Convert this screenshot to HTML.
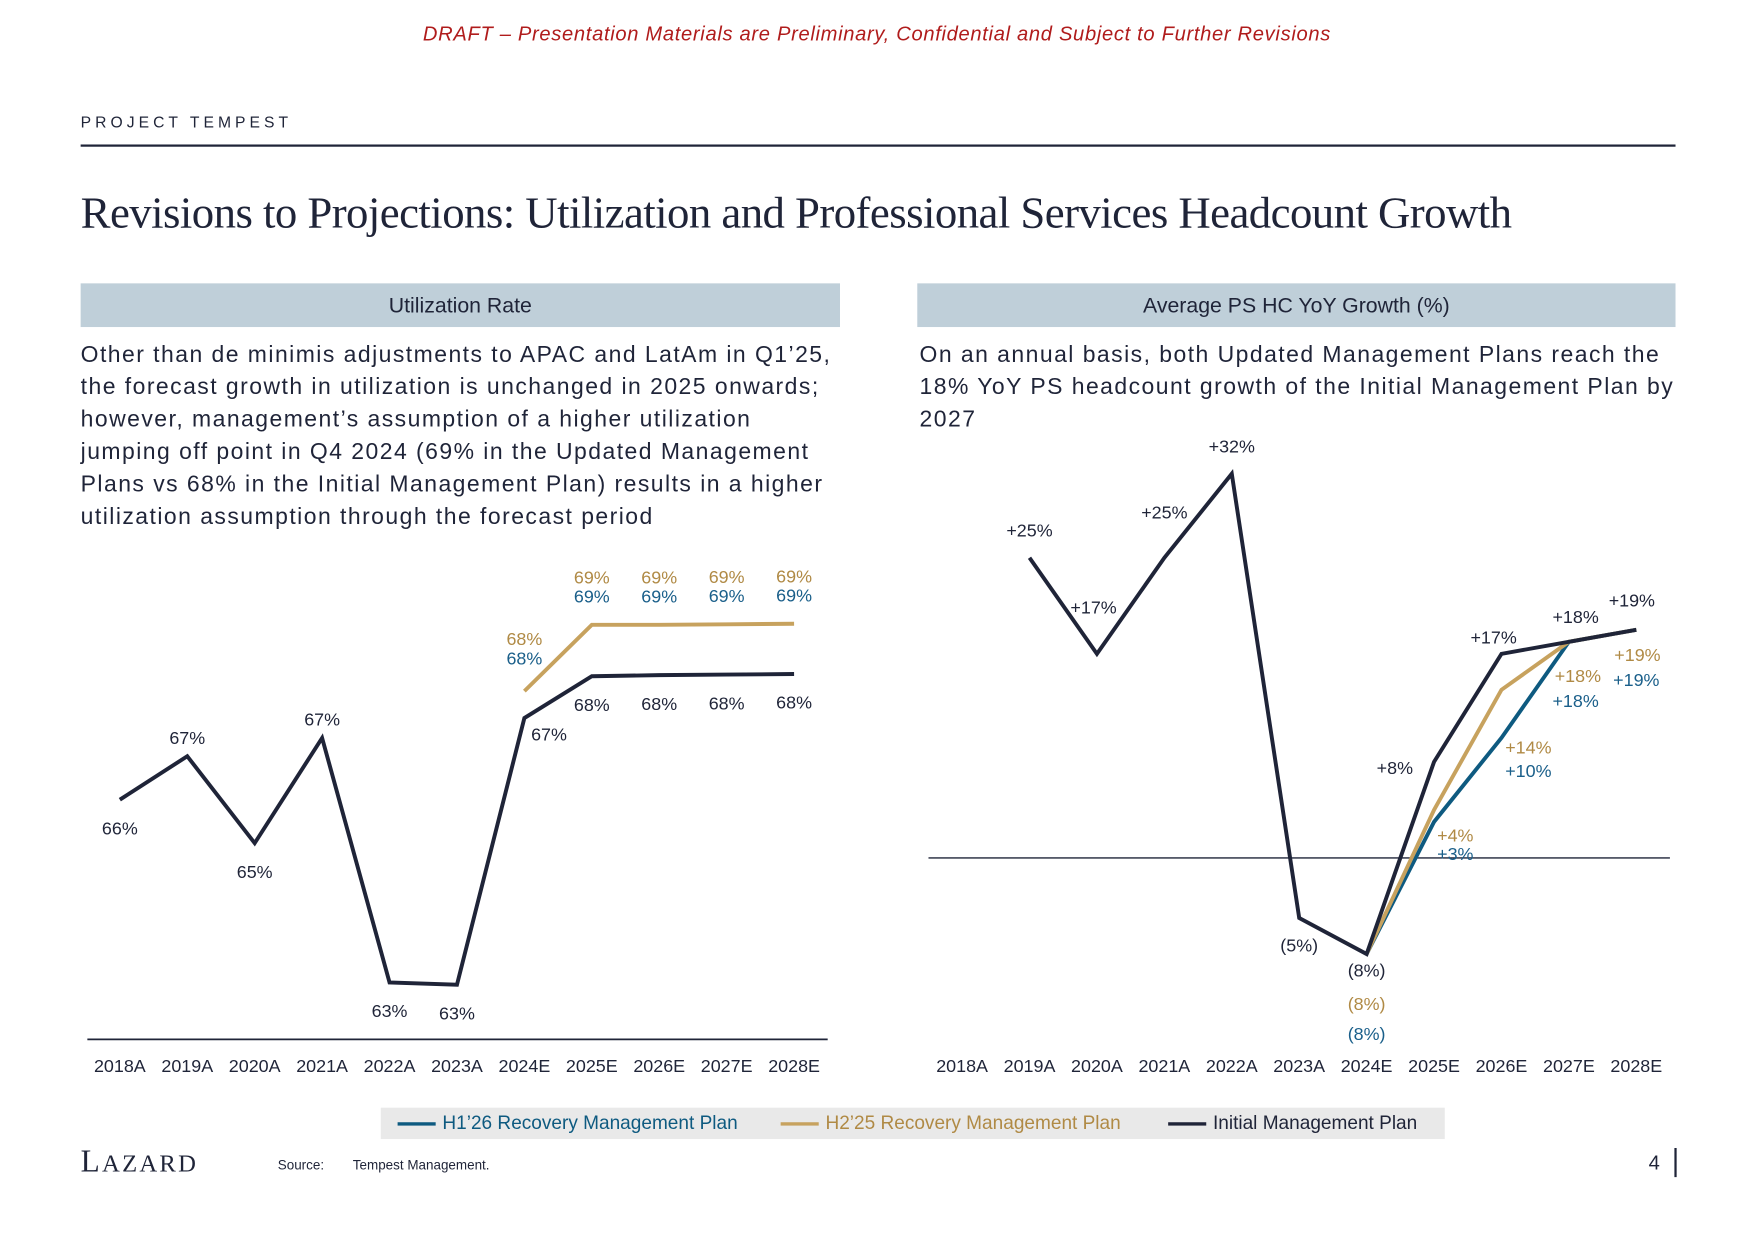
<!DOCTYPE html>
<html><head><meta charset="utf-8">
<style>
html,body{margin:0;padding:0;background:#fff;width:1755px;height:1241px;overflow:hidden}
#page{position:absolute;left:0;top:0;width:1567px;height:1108px;transform:scale(1.12);transform-origin:0 0;font-family:"Liberation Sans",sans-serif;color:#1f2438}
.abs{position:absolute}
.hdr{position:absolute;top:253px;height:39px;background:#bfcfd9;font-size:19px;text-align:center;line-height:41px;color:#1f2438}
.para{position:absolute;top:302px;font-size:20.5px;line-height:29px;color:#1f2438;white-space:nowrap;letter-spacing:1.3px}
svg text{font-family:"Liberation Sans",sans-serif}
</style></head><body>
<div id="page">
<div class="abs" style="left:0;width:1566px;top:20px;text-align:center;color:#b01c1c;font-style:italic;font-size:18px;letter-spacing:0.6px">DRAFT – Presentation Materials are Preliminary, Confidential and Subject to Further Revisions</div>
<div class="abs" style="left:72px;top:101px;font-size:14px;letter-spacing:3.6px">PROJECT TEMPEST</div>
<div class="abs" style="left:72px;top:129px;width:1424px;height:2px;background:#1f2438"></div>
<div class="abs" style="left:72px;top:166px;font-family:'Liberation Serif',serif;font-size:40px;letter-spacing:-0.5px;color:#1f2438">Revisions to Projections: Utilization and Professional Services Headcount Growth</div>
<div class="hdr" style="left:72px;width:678px">Utilization Rate</div>
<div class="hdr" style="left:819px;width:677px">Average PS HC YoY Growth (%)</div>
<div class="para" style="left:72px">Other than de minimis adjustments to APAC and LatAm in Q1’25,<br>the forecast growth in utilization is unchanged in 2025 onwards;<br>however, management’s assumption of a higher utilization<br>jumping off point in Q4 2024 (69% in the Updated Management<br>Plans vs 68% in the Initial Management Plan) results in a higher<br>utilization assumption through the forecast period</div>
<div class="para" style="left:821px">On an annual basis, both Updated Management Plans reach the<br>18% YoY PS headcount growth of the Initial Management Plan by<br>2027</div>

<svg class="abs" style="left:0;top:0" width="1567" height="1108" id="charts"></svg>

<div class="abs" style="left:340px;top:989px;width:950px;height:28px;background:#e9e9e9;font-size:17px;line-height:28px">
 <span class="abs" style="left:15px;color:#0e5a80"><span style="display:inline-block;width:34px;height:3px;background:#0e5a80;vertical-align:middle;margin-right:6px"></span>H1’26 Recovery Management Plan</span>
 <span class="abs" style="left:357px;color:#b08a45"><span style="display:inline-block;width:34px;height:3px;background:#c7a25e;vertical-align:middle;margin-right:6px"></span>H2’25 Recovery Management Plan</span>
 <span class="abs" style="left:703px;color:#1f2438"><span style="display:inline-block;width:34px;height:3px;background:#1f2438;vertical-align:middle;margin-right:6px"></span>Initial Management Plan</span>
</div>
<div class="abs" style="left:72px;top:1022px;font-family:'Liberation Serif',serif;font-size:28px;letter-spacing:2px;color:#1f2438">L<span style="font-size:22px">AZARD</span></div>
<div class="abs" style="left:248px;top:1033px;font-size:12px">Source:</div>
<div class="abs" style="left:315px;top:1033px;font-size:12px">Tempest Management.</div>
<div class="abs" style="left:1472px;top:1028px;font-size:18px">4</div>
<div class="abs" style="left:1495px;top:1025px;width:1.5px;height:26px;background:#1f2438"></div>
</div>
<script>
const years = ["2018A","2019A","2020A","2021A","2022A","2023A","2024E","2025E","2026E","2027E","2028E"];
// Utilization (%)
const utilInitial = [66.0,66.76,65.24,67.08,62.8,62.76,67.43,68.16,68.18,68.19,68.2];
const utilUpdated = [null,null,null,null,null,null,67.9,69.06,69.06,69.07,69.08];
const utilInitialLabels = ["66%","67%","65%","67%","63%","63%","67%","68%","68%","68%","68%"];
const utilGoldLabels = [null,null,null,null,null,null,"68%","69%","69%","69%","69%"];
const utilBlueLabels = [null,null,null,null,null,null,"68%","69%","69%","69%","69%"];
// HC growth (%)
const hcInitial = [null,25,17,25,32,-5,-8,8,17,18,19];
const hcGold = [null,null,null,null,null,null,-8,4,14,18,19];
const hcBlue = [null,null,null,null,null,null,-8,3,10,18,19];
const hcInitialLabels = [null,"+25%","+17%","+25%","+32%","(5%)","(8%)","+8%","+17%","+18%","+19%"];
const hcGoldLabels = [null,null,null,null,null,null,"(8%)","+4%","+14%","+18%","+19%"];
const hcBlueLabels = [null,null,null,null,null,null,"(8%)","+3%","+10%","+18%","+19%"];

const NS="http://www.w3.org/2000/svg";
const svg=document.getElementById('charts');
function el(tag,attrs,parent){const e=document.createElementNS(NS,tag);for(const k in attrs)e.setAttribute(k,attrs[k]);(parent||svg).appendChild(e);return e;}
const NAVY="#1f2438",GOLD="#c7a25e",BLUE="#0e5a80",GOLDT="#b08a45",BLUET="#1a5f8a";

const lx=i=>107+i*60.2;
const ly=v=>714-(v-66)*51;
const rx=i=>859+i*60.2;
const ry=v=>766-v*10.72;

function line(vals,xf,yf,color,name){
  const pts=[];vals.forEach((v,i)=>{if(v!==null)pts.push(xf(i).toFixed(1)+","+yf(v).toFixed(1));});
  const p=el('polyline',{points:pts.join(' '),fill:'none',stroke:color,'stroke-width':3.5,'stroke-linejoin':'miter'});
  
  
}
function label(txt,x,y,color,name){
  const t=el('text',{x:x,y:y,'text-anchor':'middle','font-size':16,fill:color});
  t.textContent=txt;
  
  
}

let a=el('line',{x1:78,x2:739,y1:928,y2:928,stroke:NAVY,'stroke-width':1.5});


years.forEach((y,i)=>label(y,lx(i),957,NAVY,'util-x-tick'));
line(utilUpdated,lx,ly,GOLD,'util-updated-line');
line(utilInitial,lx,ly,NAVY,'util-initial-line');
utilInitial.forEach((v,i)=>{
  const txt=utilInitialLabels[i];let x=lx(i),y;
  if(i===6){x+=22;y=ly(v)+20;}
  else if(i>=7){y=ly(v)+31;}
  else if(i===1||i===3){y=ly(v)-11;}
  else {y=ly(v)+31;}
  label(txt,x,y,NAVY,'util-initial-label');
});
utilUpdated.forEach((v,i)=>{
  if(v===null)return;
  const off=i===6?-41:-37;
  label(utilGoldLabels[i],lx(i),ly(v)+off,GOLDT,'util-h2-25-label');
  label(utilBlueLabels[i],lx(i),ly(v)+off+17,BLUET,'util-h1-26-label');
});

a=el('line',{x1:829,x2:1491,y1:ry(0),y2:ry(0),stroke:NAVY,'stroke-width':1.2});


years.forEach((y,i)=>label(y,rx(i),957,NAVY,'hc-x-tick'));
line(hcBlue,rx,ry,BLUE,'hc-h1-26-line');
line(hcGold,rx,ry,GOLD,'hc-h2-25-line');
line(hcInitial,rx,ry,NAVY,'hc-initial-line');
const offs=[null,[0,-24],[-3,-41],[0,-40],[0,-24],[0,25],[0,15],[-35,6],[-7,-14],[6,-22],[-4,-26]];
hcInitial.forEach((v,i)=>{
  if(v===null)return;
  label(hcInitialLabels[i],rx(i)+offs[i][0],ry(v)+offs[i][1]+5,NAVY,'hc-initial-label');
});
const goff=[0,0,0,0,0,0,[0,45],[19,23],[24,52],[8,31],[1,23]];
const boff=[0,0,0,0,0,0,[0,72],[19,29],[24,30],[6,53],[0,45]];
hcGold.forEach((v,i)=>{
  if(v===null)return;
  label(hcGoldLabels[i],rx(i)+goff[i][0],ry(v)+goff[i][1]+5,GOLDT,'hc-h2-25-label');
  label(hcBlueLabels[i],rx(i)+boff[i][0],ry(hcBlue[i])+boff[i][1]+5,BLUET,'hc-h1-26-label');
});
</script>
</body></html>
